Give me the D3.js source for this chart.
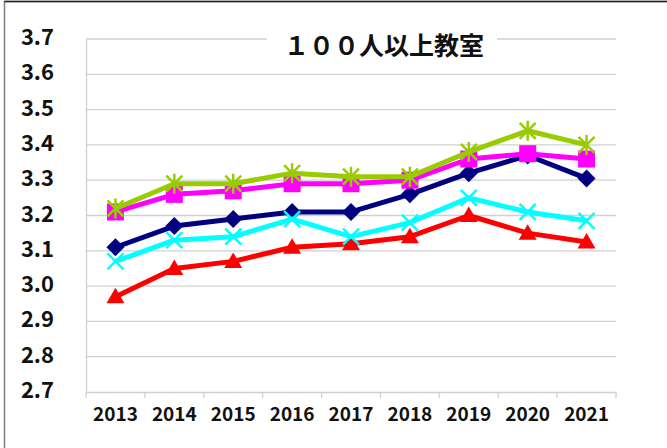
<!DOCTYPE html>
<meta charset="utf-8">
<script src="https://d3js.org/d3.v7.min.js"></script>
<style>
  body { margin: 0; background: #fff; }
  svg { display: block; font-family: "Noto Sans CJK JP", "Noto Sans", sans-serif; }
</style>
<div id="chart"></div>
<script>

// chart data
var title = "１００人以上教室";
var years = ["2013", "2014", "2015", "2016", "2017", "2018", "2019", "2020", "2021"];
var yTicks = [2.7, 2.8, 2.9, 3.0, 3.1, 3.2, 3.3, 3.4, 3.5, 3.6, 3.7];

var navyVals    = [3.11, 3.17, 3.19, 3.21, 3.21, 3.26, 3.32, 3.37, 3.305];
var redVals     = [2.97, 3.05, 3.07, 3.11, 3.12, 3.14, 3.20, 3.15, 3.125];
var magentaVals = [3.21, 3.26, 3.27, 3.29, 3.29, 3.30, 3.36, 3.375, 3.36];
var cyanVals    = [3.07, 3.13, 3.14, 3.19, 3.14, 3.18, 3.25, 3.21, 3.185];
var greenVals   = [3.22, 3.29, 3.29, 3.32, 3.31, 3.31, 3.38, 3.44, 3.40];

var series = [
  {values: navyVals,    color: "#000080", width: 5, marker: "diamond"},
  {values: redVals,     color: "#ff0000", width: 5, marker: "triangle"},
  {values: magentaVals, color: "#ff00ff", width: 5, marker: "square"},
  {values: cyanVals,    color: "#00ffff", width: 5, marker: "cross"},
  {values: greenVals,   color: "#99cc00", width: 5, marker: "star"}
];

var W = 667, H = 448;
var margin = {top: 39, right: 51, bottom: 56, left: 86},
    width = W - margin.left - margin.right,
    height = H - margin.top - margin.bottom;

var svg = d3.select("#chart").append("svg")
    .attr("width", W)
    .attr("height", H);

// outer chart border (cut off on the right and bottom)
svg.append("rect")
  .attr("x", 4.5).attr("y", 1.5)
  .attr("width", W + 10).attr("height", H + 10)
  .attr("fill", "#fff")
  .attr("stroke", "#7f7f7f")
  .attr("stroke-width", 1.5);
svg.append("line")
  .attr("x1", 4.5).attr("x2", W).attr("y1", 1.5).attr("y2", 1.5)
  .attr("stroke", "#222").attr("stroke-width", 1.5);

var g = svg.append("g")
  .attr("transform", "translate(" + margin.left + "," + margin.top + ")");

var x = d3.scaleBand().domain(years).range([0, width]);
var y = d3.scaleLinear().domain([2.7, 3.7]).range([height, 0]);

// gridlines
g.selectAll(".grid")
  .data(yTicks.slice(1))
  .enter().append("line")
    .attr("x1", 0).attr("x2", width)
    .attr("y1", function(d) { return y(d); })
    .attr("y2", function(d) { return y(d); })
    .attr("stroke", "#d0d0d0")
    .attr("stroke-width", 1.3);

// y axis labels
var yAxis = g.append("g")
  .call(d3.axisLeft(y).tickValues(yTicks).tickFormat(d3.format(".1f")).tickSize(0).tickPadding(32));
yAxis.select(".domain").attr("stroke", "#d0d0d0").attr("stroke-width", 1.3);
yAxis.selectAll("text")
  .attr("font-size", "22px")
  .attr("font-weight", "bold")
  .attr("fill", "#111")
  .attr("font-family", "'Noto Sans CJK JP', sans-serif")
  .attr("dy", "0.25em");

// x axis
var xAxis = g.append("g")
  .attr("transform", "translate(0," + height + ")")
  .call(d3.axisBottom(x).tickSize(0).tickPadding(16));
xAxis.select(".domain").attr("stroke", "#d0d0d0").attr("stroke-width", 1.5);
xAxis.selectAll("text")
  .attr("font-size", "19px")
  .attr("font-weight", "bold")
  .attr("fill", "#111")
  .attr("font-family", "'Noto Sans CJK JP', sans-serif");

// category boundary ticks
var bounds = years.map(function(d) { return x(d); }).concat([width]);
xAxis.selectAll(".bound")
  .data(bounds)
  .enter().append("line")
    .attr("x1", function(d) { return d; })
    .attr("x2", function(d) { return d; })
    .attr("y1", 0).attr("y2", 6)
    .attr("stroke", "#d0d0d0")
    .attr("stroke-width", 1.3);

// title with white backdrop over the top gridline
var tg = g.append("g").attr("transform", "translate(" + (384 - margin.left) + ",0)");
tg.append("rect")
  .attr("x", -117).attr("y", -10).attr("width", 230).attr("height", 20)
  .attr("fill", "#fff");
tg.append("text")
  .attr("text-anchor", "middle")
  .attr("y", 16)
  .attr("font-size", "25px")
  .attr("font-weight", "bold")
  .attr("fill", "#111")
  .attr("font-family", "'Noto Sans CJK JP', sans-serif")
  .text(title);

var cx = function(d, i) { return x(years[i]) + x.bandwidth() / 2; };

var line = d3.line()
  .x(function(d, i) { return x(years[i]) + x.bandwidth() / 2; })
  .y(function(d) { return y(d); });

function drawMarker(sel, s) {
  var c = s.color;
  if (s.marker == "diamond") {
    sel.append("path").attr("d", "M0,-9L9,0L0,9L-9,0Z").attr("fill", c);
  } else if (s.marker == "triangle") {
    sel.append("path").attr("d", "M0,-9L9,6.5L-9,6.5Z").attr("fill", c);
  } else if (s.marker == "square") {
    sel.append("rect").attr("x", -8.5).attr("y", -8.5).attr("width", 17).attr("height", 17).attr("fill", c);
  } else if (s.marker == "cross") {
    sel.append("path").attr("d", "M-8,-8L8,8M-8,8L8,-8")
      .attr("stroke", c).attr("stroke-width", 2.5).attr("fill", "none");
  } else if (s.marker == "star") {
    sel.append("path").attr("d", "M-8,-8L8,8M-8,8L8,-8M0,-10L0,10")
      .attr("stroke", c).attr("stroke-width", 2.5).attr("fill", "none");
  }
}

series.forEach(function(s) {
  g.append("path")
    .datum(s.values)
    .attr("fill", "none")
    .attr("stroke", s.color)
    .attr("stroke-width", s.width)
    .attr("stroke-linejoin", "round")
    .attr("d", line);

  g.selectAll(null)
    .data(s.values)
    .enter().append("g")
      .attr("transform", function(d, i) { return "translate(" + cx(d, i) + "," + y(d) + ")"; })
      .each(function() { drawMarker(d3.select(this), s); });
});

</script>
